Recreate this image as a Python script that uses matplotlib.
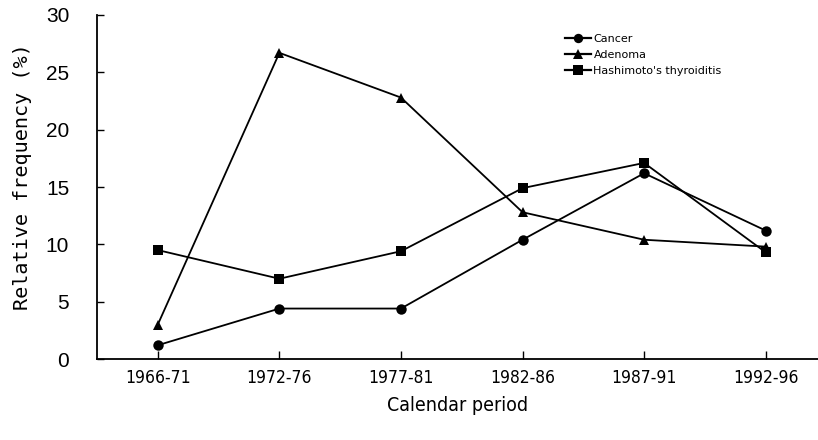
import matplotlib
matplotlib.use("Agg")
import matplotlib.pyplot as plt
from matplotlib.font_manager import FontProperties

periods = ["1966-71", "1972-76", "1977-81", "1982-86", "1987-91", "1992-96"]
cancer = [1.2, 4.4, 4.4, 10.4, 16.2, 11.2]
adenoma = [3.0, 26.7, 22.8, 12.8, 10.4, 9.8]
hashimoto = [9.5, 7.0, 9.4, 14.9, 17.1, 9.3]

series = [
    ("Cancer", cancer, "o"),
    ("Adenoma", adenoma, "^"),
    ("Hashimoto's thyroiditis", hashimoto, "s"),
]

fig = plt.figure(figsize=(8.18, 4.40), dpi=100)
ax = fig.add_axes([97 / 818, 1 - 359 / 440, 1 - 97 / 818, 344 / 440])

x = list(range(len(periods)))
for name, vals, mk in series:
    ax.plot(x, vals, color="black", linewidth=1.3, marker=mk, markersize=7.5,
            markeredgewidth=0, label=name)

ax.set_xlim(-0.5, 5.43)
ax.set_ylim(0, 30)
ax.set_yticks(range(0, 31, 5))
ax.set_xticks(x)
ax.set_xticklabels(periods, family="DejaVu Sans", stretch="condensed", fontsize=12.5)
for lab in ax.get_yticklabels():
    lab.set_family("Liberation Sans")
    lab.set_fontsize(15)

ax.spines["top"].set_visible(False)
ax.spines["right"].set_visible(False)
ax.spines["left"].set_linewidth(1.3)
ax.spines["bottom"].set_linewidth(1.3)
ax.tick_params(axis="y", direction="in", length=5, width=1, pad=20)
ax.tick_params(axis="x", direction="in", length=6, width=1, pad=7)

ax.set_xlabel("Calendar period", family="DejaVu Sans", stretch="condensed",
              fontsize=14, labelpad=7)
ax.set_ylabel("Relative frequency (%)", family="DejaVu Sans Mono", fontsize=14.5,
              labelpad=8)
ax.yaxis.set_label_coords(-0.09, 0.53)

leg_font = FontProperties(family="DejaVu Sans", stretch="normal", size=8)
leg = ax.legend(loc="upper left", bbox_to_anchor=(559 / 818, 1 - 28 / 440),
                bbox_transform=fig.transFigure, frameon=False, prop=leg_font,
                handlelength=2.4, handletextpad=0.2, labelspacing=0.55,
                markerscale=0.9, borderpad=0)
for h in leg.legend_handles:
    h.set_linewidth(1.6)

fig.savefig("out.png", dpi=100)
